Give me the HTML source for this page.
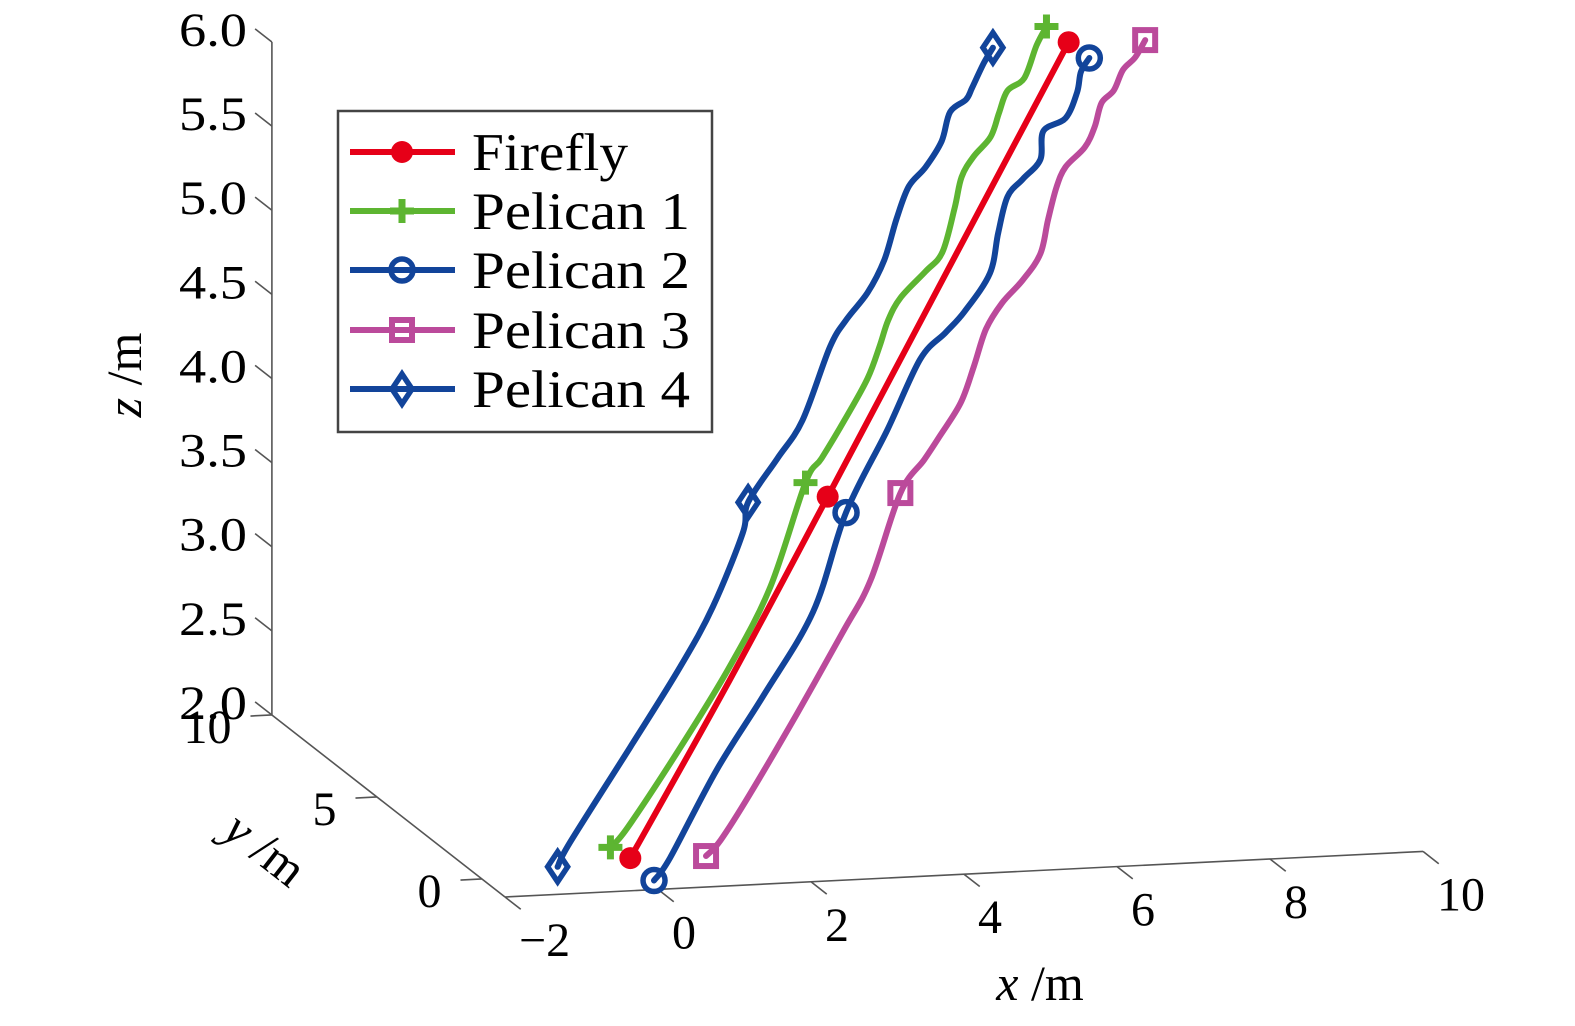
<!DOCTYPE html>
<html><head><meta charset="utf-8"><style>
html,body{margin:0;padding:0;background:#fff;}
svg text{font-family:"Liberation Serif",serif;fill:#000;}
</style></head>
<body>
<svg id="chart" width="1575" height="1021" viewBox="0 0 1575 1021" xmlns="http://www.w3.org/2000/svg">
<g id="axes"></g>
<g id="series"></g>
<g id="legend"></g>
</svg>
<script>
// ---- data ----
const xTicks = [-2, 0, 2, 4, 6, 8, 10];
const yTicks = [0, 5, 10];
const zTicks = [2.0, 2.5, 3.0, 3.5, 4.0, 4.5, 5.0, 5.5, 6.0];
const xTickLabels = ["\u22122", "0", "2", "4", "6", "8", "10"];
const yTickLabels = ["0", "5", "10"];
const zTickLabels = ["2.0", "2.5", "3.0", "3.5", "4.0", "4.5", "5.0", "5.5", "6.0"];
const seriesNames = ["Firefly", "Pelican 1", "Pelican 2", "Pelican 3", "Pelican 4"];

const fireflyX = [-0.06, 1.24, 2.52, 4.10, 5.67];
const fireflyZ = [2.08, 3.11, 4.17, 5.49, 6.80];
const fireflyMarkers = [0, 2, 4];

const pelican1X = [-0.32, -0.10, 0.59, 1.24, 1.77, 2.23, 2.44, 2.74, 3.04, 3.20, 3.31, 3.47, 3.80, 4.02, 4.18, 4.27, 4.43, 4.65, 4.76, 4.87, 5.09, 5.25, 5.38];
const pelican1Z = [2.15, 2.26, 2.72, 3.19, 3.65, 4.26, 4.40, 4.62, 4.86, 5.05, 5.20, 5.33, 5.48, 5.59, 5.85, 6.03, 6.15, 6.26, 6.40, 6.53, 6.60, 6.79, 6.90];
const pelican1Markers = [0, 5, 22];

const pelican2X = [0.25, 0.46, 1.07, 1.67, 2.33, 2.76, 3.30, 3.73, 4.06, 4.31, 4.64, 4.75, 4.87, 5.07, 5.30, 5.34, 5.63, 5.78, 5.83, 5.94];
const pelican2Z = [1.94, 2.07, 2.58, 3.00, 3.49, 4.07, 4.55, 4.96, 5.11, 5.23, 5.45, 5.69, 5.90, 6.00, 6.11, 6.28, 6.35, 6.50, 6.62, 6.70];
const pelican2Markers = [0, 5, 19];

const pelican3X = [0.93, 1.12, 1.51, 2.12, 2.73, 3.08, 3.47, 3.78, 3.99, 4.26, 4.43, 4.59, 4.80, 5.07, 5.30, 5.40, 5.51, 5.63, 5.88, 6.01, 6.10, 6.26, 6.38, 6.54, 6.67];
const pelican3Z = [2.07, 2.16, 2.43, 2.89, 3.37, 3.66, 4.17, 4.36, 4.50, 4.69, 4.90, 5.12, 5.27, 5.40, 5.55, 5.75, 5.94, 6.06, 6.17, 6.29, 6.43, 6.50, 6.62, 6.69, 6.79];
const pelican3Markers = [0, 6, 24];

const pelican4X = [-1.01, -0.85, -0.06, 0.59, 1.02, 1.41, 1.48, 1.86, 2.19, 2.55, 2.77, 3.04, 3.26, 3.42, 3.58, 3.80, 4.01, 4.12, 4.33, 4.41, 4.56, 4.68];
const pelican4Z = [2.05, 2.19, 2.74, 3.20, 3.55, 3.98, 4.16, 4.41, 4.63, 5.06, 5.22, 5.37, 5.56, 5.80, 5.99, 6.10, 6.25, 6.42, 6.49, 6.56, 6.70, 6.79];
const pelican4Markers = [0, 6, 21];

// ---- projection ----
const XMIN = -2, XMAX = 10, YMIN = -1.1, YMAX = 10, ZMIN = 2, ZMAX = 6;
function P(x, y, z) {
  return [505 + 76.5 * (x - XMIN) - 21.0 * (y - YMIN),
          897 - 3.8 * (x - XMIN) - 16.4 * (y - YMIN) - 168.25 * (z - ZMIN)];
}
const NS = "http://www.w3.org/2000/svg";
function mk(tag, attrs, parent) {
  const e = document.createElementNS(NS, tag);
  for (const k in attrs) e.setAttribute(k, attrs[k]);
  parent.appendChild(e);
  return e;
}
const axes = document.getElementById("axes");
const seriesG = document.getElementById("series");
const legend = document.getElementById("legend");
const AX = "#555";

function line(a, b, parent, name) {
  const l = mk("line", {x1: a[0], y1: a[1], x2: b[0], y2: b[1], stroke: AX, "stroke-width": 1.6}, parent);
  
  
  return l;
}
function text(str, x, y, parent, name, extra) {
  const t = mk("text", Object.assign({x: x, y: y, "font-size": 50}, extra || {}), parent);
  t.textContent = str;
  
  
  return t;
}

line(P(XMIN, YMIN, ZMIN), P(XMAX, YMIN, ZMIN), axes, "x-axis-line");
line(P(XMIN, YMIN, ZMIN), P(XMIN, YMAX, ZMIN), axes, "y-axis-line");
line(P(XMIN, YMAX, ZMIN), P(XMIN, YMAX, ZMAX), axes, "z-axis-line");

xTicks.forEach((v, i) => {
  const a = P(v, YMIN, ZMIN), b = P(v, YMIN - 0.75, ZMIN);
  line(a, b, axes, "x-tick");
  text(xTickLabels[i], a[0] + 14, a[1] + 59, axes, "x-tick-label", {"font-size": 48});
});
yTicks.forEach((v, i) => {
  const a = P(XMIN, v, ZMIN), b = P(XMIN - 0.28, v, ZMIN);
  line(a, b, axes, "y-tick");
  text(yTickLabels[i], b[0] - 19, b[1] + 27, axes, "y-tick-label", {"font-size": 48, "text-anchor": "end"});
});
zTicks.forEach((v, i) => {
  const a = P(XMIN, YMAX, v), b = P(XMIN, YMAX + 0.8, v);
  line(a, b, axes, "z-tick");
  text(zTickLabels[i], 247, a[1] + 4, axes, "z-tick-label", {"font-size": 48, "text-anchor": "end", textLength: 68, lengthAdjust: "spacingAndGlyphs"});
});

(function () {
  const t = mk("text", {x: 1040, y: 1000, "font-size": 50, "text-anchor": "middle"}, axes);
  
  
  t.innerHTML = '<tspan font-style="italic">x</tspan> /m';
  const ty = mk("text", {x: 0, y: 0, "font-size": 50, "text-anchor": "middle", transform: "translate(255,862) rotate(38)"}, axes);
  
  
  ty.innerHTML = '<tspan font-style="italic">y</tspan> /m';
  const tz = mk("text", {x: 0, y: 0, "font-size": 50, "text-anchor": "middle", transform: "translate(141,375) rotate(-90)"}, axes);
  
  
  tz.innerHTML = '<tspan font-style="italic">z</tspan> /m';
})();

function smoothPath(pts) {
  let d = "M" + pts[0][0].toFixed(1) + "," + pts[0][1].toFixed(1);
  for (let i = 0; i < pts.length - 1; i++) {
    const p0 = pts[Math.max(0, i - 1)], p1 = pts[i], p2 = pts[i + 1], p3 = pts[Math.min(pts.length - 1, i + 2)];
    const c1 = [p1[0] + (p2[0] - p0[0]) / 6, p1[1] + (p2[1] - p0[1]) / 6];
    const c2 = [p2[0] - (p3[0] - p1[0]) / 6, p2[1] - (p3[1] - p1[1]) / 6];
    d += " C" + c1[0].toFixed(1) + "," + c1[1].toFixed(1) + " " + c2[0].toFixed(1) + "," + c2[1].toFixed(1) + " " + p2[0].toFixed(1) + "," + p2[1].toFixed(1);
  }
  return d;
}

function marker(type, c, x, y, parent, name) {
  let e;
  if (type === "dot") e = mk("circle", {cx: x, cy: y, r: 11, fill: c}, parent);
  else if (type === "plus") e = mk("path", {d: `M${x-12},${y}H${x+12}M${x},${y-12}V${y+12}`, stroke: c, "stroke-width": 7, fill: "none"}, parent);
  else if (type === "circle") e = mk("circle", {cx: x, cy: y, r: 11, fill: "none", stroke: c, "stroke-width": 5.5}, parent);
  else if (type === "square") e = mk("rect", {x: x - 10, y: y - 10, width: 20, height: 20, fill: "none", stroke: c, "stroke-width": 6}, parent);
  else e = mk("path", {d: `M${x},${y-15}L${x+10},${y}L${x},${y+15}L${x-10},${y}Z`, fill: "none", stroke: c, "stroke-width": 5.5}, parent);
  
  
  return e;
}

const seriesDefs = [
  {name: "firefly", xs: fireflyX, zs: fireflyZ, mi: fireflyMarkers, color: "#e60018", m: "dot"},
  {name: "pelican-1", xs: pelican1X, zs: pelican1Z, mi: pelican1Markers, color: "#5db531", m: "plus"},
  {name: "pelican-2", xs: pelican2X, zs: pelican2Z, mi: pelican2Markers, color: "#12449a", m: "circle"},
  {name: "pelican-3", xs: pelican3X, zs: pelican3Z, mi: pelican3Markers, color: "#bb4a9b", m: "square"},
  {name: "pelican-4", xs: pelican4X, zs: pelican4Z, mi: pelican4Markers, color: "#12449a", m: "diamond"}
];
seriesDefs.forEach(s => {
  const pts = s.xs.map((x, i) => P(x, 0, s.zs[i]));
  const p = mk("path", {d: smoothPath(pts), fill: "none", stroke: s.color, "stroke-width": 6, "stroke-linejoin": "round", "stroke-linecap": "round"}, seriesG);
  
  
  s.mi.forEach(i => marker(s.m, s.color, pts[i][0], pts[i][1], seriesG, s.name + '-marker'));
});

(function () {
  const box = mk("rect", {x: 338, y: 111, width: 374, height: 321, fill: "#fff", stroke: "#444", "stroke-width": 2.5}, legend);
  
  
  const ys = [152, 211, 270, 330, 389];
  seriesDefs.forEach((s, i) => {
    const g = mk("g", {}, legend);
    
    
    const l = mk("line", {x1: 350, y1: ys[i], x2: 455, y2: ys[i], stroke: s.color, "stroke-width": 6}, g);
    
    
    marker(s.m, s.color, 402, ys[i], g, 'legend-marker');
    const w = i === 0 ? 156 : 218;
    text(seriesNames[i], 472, ys[i] + 18, g, 'legend-label', {"font-size": 53, textLength: w, lengthAdjust: "spacingAndGlyphs"});
  });
})();
</script>
</body></html>
